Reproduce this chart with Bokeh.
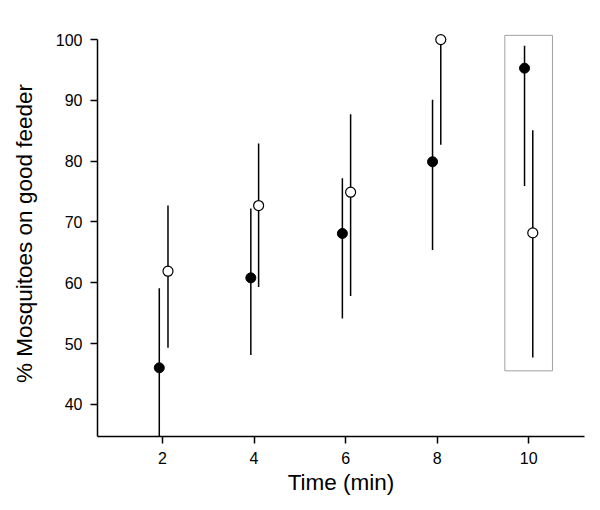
from bokeh.plotting import figure
from bokeh.embed import file_html
from bokeh.resources import INLINE
from bokeh.models import FixedTicker, Range1d

# Data
times = [2, 4, 6, 8, 10]
filled_x = [1.93, 3.93, 5.93, 7.90, 9.91]
filled_y = [46.0, 60.8, 68.1, 79.9, 95.3]
filled_lo = [33.0, 48.1, 54.1, 65.4, 75.9]
filled_hi = [59.1, 72.2, 77.2, 90.1, 99.0]

open_x = [2.12, 4.10, 6.11, 8.08, 10.09]
open_y = [61.9, 72.7, 74.9, 100.0, 68.2]
open_lo = [49.3, 59.3, 57.8, 82.7, 47.7]
open_hi = [72.7, 82.9, 87.7, 100.0, 85.1]

y_ticks = [40, 50, 60, 70, 80, 90, 100]
box = dict(left=9.48, right=10.52, bottom=45.5, top=100.7)

y0, y1 = 34.7, 101.5
p = figure(width=592, height=502, output_backend="svg", toolbar_location=None,
           x_range=Range1d(0.58, 11.22), y_range=Range1d(y0, y1),
           min_border_left=97, min_border_right=8, min_border_top=30, min_border_bottom=66)
p.outline_line_color = None
p.xgrid.visible = False
p.ygrid.visible = False

# highlight box
p.quad(left=[box["left"]], right=[box["right"]], bottom=[box["bottom"]], top=[box["top"]],
       fill_color=None, line_color="#a0a0a0", line_width=1)

# error bars
p.segment(x0=filled_x, x1=filled_x, y0=filled_lo, y1=filled_hi, line_color="black", line_width=1.5)
p.segment(x0=open_x, x1=open_x, y0=open_lo, y1=open_hi, line_color="black", line_width=1.5)

p.scatter(filled_x, filled_y, size=10, fill_color="black", line_color="black", line_width=1)
p.scatter(open_x, open_y, size=10, fill_color="white", line_color="black", line_width=1.2)

font = "Liberation Sans"
p.xaxis.ticker = FixedTicker(ticks=times)
p.yaxis.ticker = FixedTicker(ticks=y_ticks)
p.yaxis.bounds = (y0, 100)
for ax in (p.xaxis[0], p.yaxis[0]):
    ax.axis_line_width = 1.5
    ax.axis_line_color = "black"
    ax.major_tick_line_color = "black"
    ax.major_tick_line_width = 1.5
    ax.major_tick_out = 7
    ax.major_tick_in = 0
    ax.minor_tick_line_color = None
    ax.major_label_text_font = font
    ax.major_label_text_font_size = "16px"
    ax.major_label_text_color = "black"
    ax.axis_label_text_font = font
    ax.axis_label_text_font_size = "22.5px"
    ax.axis_label_text_font_style = "normal"
    ax.axis_label_text_color = "black"
    ax.major_label_standoff = 8

p.xaxis.axis_label = "Time (min)"
p.yaxis.axis_label = "% Mosquitoes on good feeder"
p.xaxis.axis_label_standoff = 3
p.yaxis.axis_label_standoff = 16

open("out.html", "w").write(file_html(p, INLINE))
